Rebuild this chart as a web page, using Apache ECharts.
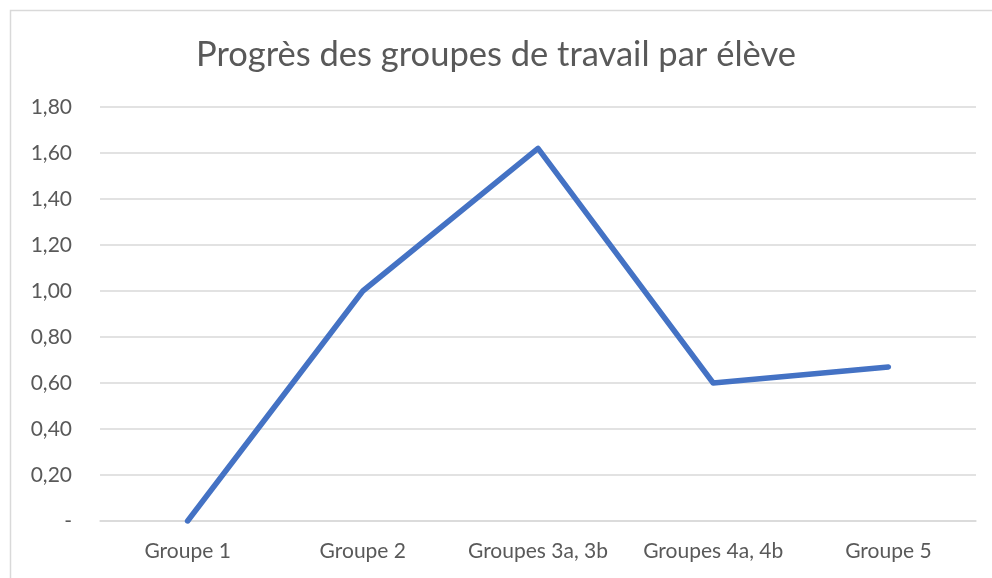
<!DOCTYPE html>
<html>
<head>
<meta charset="utf-8">
<script src="https://cdn.jsdelivr.net/npm/echarts@6/dist/echarts.min.js"></script>
<style>html,body{margin:0;padding:0;background:#fff}#c{width:992px;height:578px}</style>
</head>
<body>
<div id="c"></div>
<script>
const titleText = 'Progrès des groupes de travail par élève';
const categories = ['Groupe 1', 'Groupe 2', 'Groupes 3a, 3b', 'Groupes 4a, 4b', 'Groupe 5'];
const progressValues = [0, 1.00, 1.62, 0.60, 0.67];
const yTicks = { min: 0, max: 1.8, interval: 0.2 };

const FONT = 'Lato, "Open Sans", sans-serif';
const chart = echarts.init(document.getElementById('c'));
chart.setOption({
  backgroundColor: '#fff',
  animation: false,
  graphic: [{
    type: 'rect', left: 8, top: 8, silent: true,
    shape: { width: 1000, height: 600 },
    style: { fill: 'none', stroke: '#d9d9d9', lineWidth: 1.5 }
  }],
  title: {
    text: titleText, left: 'center', top: 32,
    textStyle: { fontFamily: FONT, fontSize: 34.5, fontWeight: 'normal', color: '#595959' }
  },
  grid: { left: 100, right: 16, top: 107, bottom: 57 },
  xAxis: {
    type: 'category', data: categories, boundaryGap: true,
    axisLine: { show: true, lineStyle: { color: '#d9d9d9', width: 1.5 } },
    axisTick: { show: false },
    axisLabel: { margin: 20, fontFamily: FONT, fontSize: 21, color: '#595959', interval: 0 }
  },
  yAxis: {
    type: 'value', min: yTicks.min, max: yTicks.max, interval: yTicks.interval,
    axisLine: { show: false }, axisTick: { show: false },
    splitLine: { lineStyle: { color: '#d9d9d9', width: 1.5 } },
    axisLabel: {
      margin: 28, fontFamily: FONT, fontSize: 21, color: '#595959',
      formatter: v => (Math.abs(v) < 1e-9 ? '-' : v.toFixed(2).replace('.', ','))
    }
  },
  series: [{
    type: 'line', data: progressValues, symbol: 'none',
    lineStyle: { color: '#4472C4', width: 5.5, cap: 'round', join: 'round' }
  }]
});
</script>
</body>
</html>
